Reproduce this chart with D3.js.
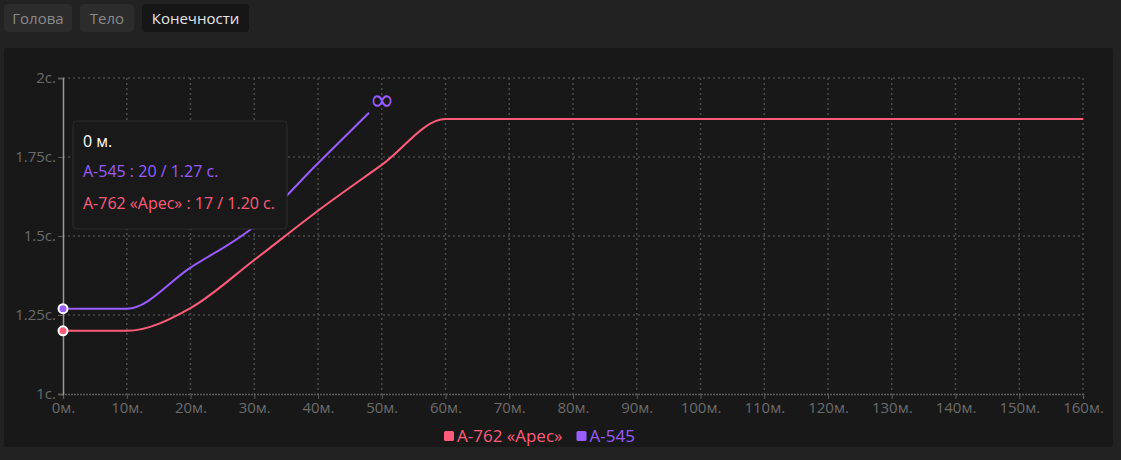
<!DOCTYPE html>
<html>
<head>
<meta charset="utf-8">
<script src="https://cdn.jsdelivr.net/npm/d3@7"></script>
<style>
  html, body { margin: 0; padding: 0; background: #222222; width: 1121px; height: 460px; overflow: hidden; }
  body { font-family: "Open Sans", "Noto Sans", sans-serif; }
  .tabs { position: absolute; left: 4px; top: 4px; }
  .tab { position: absolute; top: 0; height: 28px; line-height: 28px; text-align: center; border-radius: 4px; background: #2c2c2c; color: #8a8a8a; font-size: 15px; }
  .tab.active { background: #161616; color: #e6e6e6; }
  .panel { position: absolute; left: 4px; top: 48px; width: 1109px; height: 399px; background: #181818; border-radius: 3px; }
  svg { position: absolute; left: 0; top: 0; }
</style>
</head>
<body>
<div class="tabs">
  <div class="tab" style="left:0;width:68px">Голова</div>
  <div class="tab" style="left:76px;width:54px">Тело</div>
  <div class="tab active" style="left:138px;width:107px">Конечности</div>
</div>
<div class="panel"></div>
<svg id="chart" width="1121" height="460"></svg>
<script>
/*** DATA ***/
let seriesNames = ["А-762 «Арес»", "А-545"];
let seriesColors = ["#ff5c7c", "#9a5cff"];
let aresDist = [0, 10, 20, 30, 40, 50, 60, 160];
let aresTime = [1.20, 1.20, 1.272, 1.424, 1.58, 1.725, 1.87, 1.87];
let a545Dist = [0, 10, 20, 30, 40, 48];
let a545Time = [1.27, 1.27, 1.40, 1.53, 1.73, 1.89];
let xTicks = [0, 10, 20, 30, 40, 50, 60, 70, 80, 90, 100, 110, 120, 130, 140, 150, 160];
let yTicks = [1, 1.25, 1.5, 1.75, 2];
let tooltipTitle = "0 м.";
let tooltipRows = ["А-545 : 20 / 1.27 с.", "А-762 «Арес» : 17 / 1.20 с."];

/*** SCALES ***/
let margin = {top: 78, left: 63, right: 1083, bottom: 394};
let svg = d3.select("#chart");
let x = d3.scaleLinear().domain([0, 160]).range([margin.left, margin.right]),
    y = d3.scaleLinear().domain([1, 2]).range([margin.bottom, margin.top]);

// grid
let grid = svg.append("g");
grid.selectAll(".vg").data(xTicks.slice(1)).enter().append("line")
    .attr("x1", d => x(d)).attr("x2", d => x(d))
    .attr("y1", margin.top).attr("y2", margin.bottom)
    .attr("stroke", "#4a4a4a").attr("stroke-width", 1.5).attr("stroke-dasharray", "2,3");
grid.selectAll(".hg").data(yTicks.slice(1)).enter().append("line")
    .attr("x1", margin.left).attr("x2", margin.right)
    .attr("y1", d => y(d)).attr("y2", d => y(d))
    .attr("stroke", "#4a4a4a").attr("stroke-width", 1.5).attr("stroke-dasharray", "2,3");

// axes
let xAxis = svg.append("g").attr("transform", "translate(0," + margin.bottom + ")")
    .call(d3.axisBottom(x).tickValues(xTicks).tickSize(5).tickPadding(2).tickFormat(d => d + "м."));
xAxis.select(".domain").attr("stroke", "#5a5a5a").attr("stroke-width", 1.5).attr("stroke-dasharray", "2,1");
xAxis.selectAll(".tick line").attr("stroke", "#5a5a5a");
xAxis.selectAll("text").attr("fill", "#6b6b6b").attr("font-size", 15).attr("dy", "0.78em")
    .attr("font-family", "'Open Sans', sans-serif");

let yAxis = svg.append("g").attr("transform", "translate(" + margin.left + ",0)")
    .call(d3.axisLeft(y).tickValues(yTicks).tickSize(5).tickPadding(2).tickFormat(d => d + "с."));
yAxis.select(".domain").attr("stroke", "#9a9a9a").attr("stroke-width", 1.5);
yAxis.selectAll(".tick line").attr("stroke", "#5a5a5a");
yAxis.selectAll("text").attr("fill", "#6b6b6b").attr("font-size", 15).attr("dy", "0.3em")
    .attr("font-family", "'Open Sans', sans-serif");

// lines
let line = d3.line().x(d => x(d[0])).y(d => y(d[1])).curve(d3.curveMonotoneX);
let aresData = aresDist.map((d, i) => [d, aresTime[i]]);
let a545Data = a545Dist.map((d, i) => [d, a545Time[i]]);

svg.append("path").datum(aresData).attr("d", line)
    .attr("fill", "none").attr("stroke", seriesColors[0]).attr("stroke-width", 2);
svg.append("path").datum(a545Data).attr("d", line)
    .attr("fill", "none").attr("stroke", seriesColors[1]).attr("stroke-width", 2);

// infinity marker at end of the A-545 line
let last = a545Data[a545Data.length - 1];
svg.append("text").attr("x", x(last[0]) + 13).attr("y", y(last[1]) - 3)
    .attr("text-anchor", "middle").attr("fill", seriesColors[1])
    .attr("font-size", 30).attr("font-family", "'DejaVu Sans', sans-serif")
    .text("∞");

// hover points
[[aresData[0], seriesColors[0]], [a545Data[0], seriesColors[1]]].forEach(p => {
    svg.append("circle").attr("cx", x(p[0][0])).attr("cy", y(p[0][1])).attr("r", 4.5)
        .attr("fill", p[1]).attr("stroke", "#ffffff").attr("stroke-width", 2);
});

// tooltip
let tip = svg.append("g").attr("transform", "translate(73,121)");
tip.append("rect").attr("width", 214).attr("height", 108).attr("rx", 4)
    .attr("fill", "#191919").attr("stroke", "#2c2c2c");
tip.append("text").attr("x", 10).attr("y", 26).attr("fill", "#ffffff").attr("font-size", 16)
    .text(tooltipTitle);
tip.append("text").attr("x", 10).attr("y", 56).attr("fill", seriesColors[1]).attr("font-size", 16)
    .text(tooltipRows[0]);
tip.append("text").attr("x", 10).attr("y", 88).attr("fill", seriesColors[0]).attr("font-size", 16)
    .text(tooltipRows[1]);

// legend
let legend = svg.append("g").attr("transform", "translate(444,436)");
let lx = 0;
seriesNames.forEach((name, i) => {
    let g = legend.append("g").attr("transform", "translate(" + lx + ",0)");
    g.append("rect").attr("x", 0).attr("y", -5).attr("width", 10).attr("height", 10).attr("rx", 1.5)
        .attr("fill", seriesColors[i]);
    let t = g.append("text").attr("x", 13).attr("y", 6).attr("fill", seriesColors[i])
        .attr("font-size", 17).text(name);
    lx += 13 + t.node().getComputedTextLength() + 14;
});
</script>
</body>
</html>
